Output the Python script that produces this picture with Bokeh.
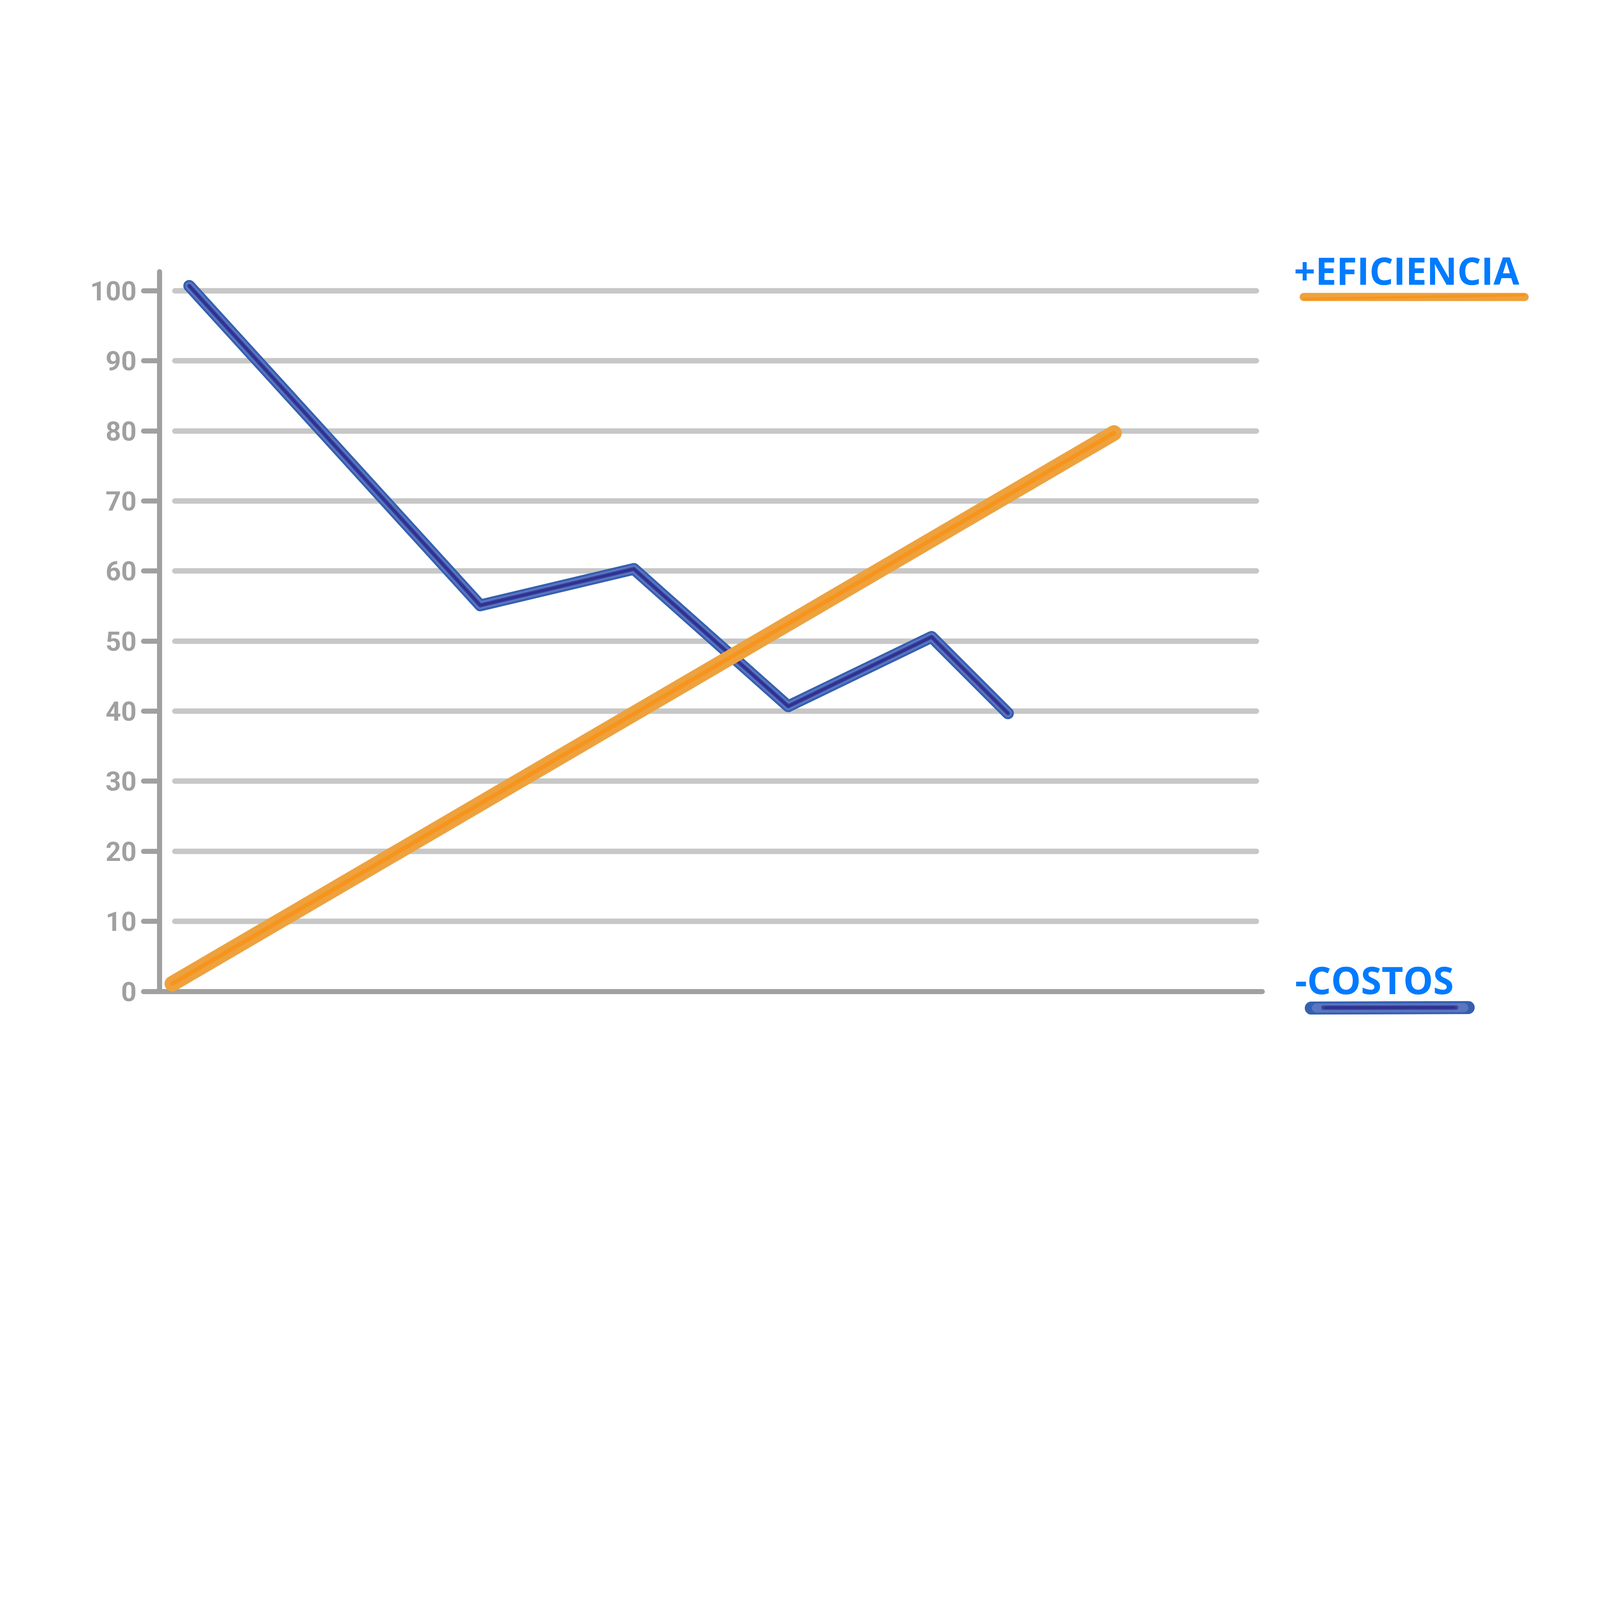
from bokeh.plotting import figure
from bokeh.models import Range1d, FixedTicker, Label, Arrow
from bokeh.embed import file_html
from bokeh.resources import INLINE

# ---------------- data ----------------
y_ticks = [0, 10, 20, 30, 40, 50, 60, 70, 80, 90, 100]
costos_x = [0.35, 3.78, 5.59, 7.41, 9.10, 10.0]
costos_y = [100.7, 55.1, 60.3, 40.7, 50.6, 39.7]
eficiencia_x = [0.15, 11.25]
eficiencia_y = [1.1, 79.7]
legend_labels = ["+EFICIENCIA", "-COSTOS"]

# ---------------- styles ----------------
AXIS = "#a0a0a0"
GRID = "#c7c7c7"
BLUE_OUT = "#3560b0"
BLUE_MID = "#5b76bf"
BLUE_SOFT = "#3b46a0"
BLUE_CORE = "#2e3192"
ORANGE_OUT = "#eea23d"
ORANGE_IN = "#f7941d"
TEXT_BLUE = "#007bff"
LEGEND_FONT = "Open Sans"
TICK_FONT = "Roboto"

# layout is designed on a 5656 x 4500 reference page, scaled to the capture area
S = 4096 / 5656.0


def px(v):
    return v * S


W = 4080
H = int(round(4500 * S))
FRAME_L, FRAME_R, FRAME_T, FRAME_B = 564, 5450, 860, 3640
left = int(round(px(FRAME_L)))
top = int(round(px(FRAME_T)))
frame_w = int(round(px(FRAME_R - FRAME_L)))
frame_h = int(round(px(FRAME_B - FRAME_T)))
right = W - left - frame_w
bottom = H - top - frame_h

X_END = 16.29          # frame right (legend area included)
Y_LO, Y_HI = -5.49, 106.74
AXIS_X_END = 13.0
AXIS_Y_END = 102.7

p = figure(width=W, height=H,
           x_range=Range1d(0, X_END), y_range=Range1d(Y_LO, Y_HI),
           output_backend="svg", toolbar_location=None,
           min_border_left=left, min_border_right=right,
           min_border_top=top, min_border_bottom=bottom)
p.background_fill_color = "white"
p.border_fill_color = "white"
p.outline_line_color = None

# y axis
yax = p.yaxis[0]
yax.ticker = FixedTicker(ticks=y_ticks)
yax.bounds = (0, AXIS_Y_END)
yax.axis_line_color = AXIS
yax.axis_line_width = px(18)
yax.axis_line_cap = "round"
yax.major_tick_line_color = AXIS
yax.major_tick_line_width = px(18)
yax.major_tick_line_cap = "round"
yax.major_tick_out = int(round(px(57)))
yax.major_tick_in = 0
yax.minor_tick_line_color = None
yax.major_label_text_font = TICK_FONT
yax.major_label_text_font_style = "bold"
yax.major_label_text_font_size = f"{px(95):.0f}px"
yax.major_label_text_color = AXIS
yax.major_label_standoff = int(round(px(25)))

# x axis (line only, sitting at y = 0)
xax = p.xaxis[0]
xax.fixed_location = 0
xax.bounds = (0, AXIS_X_END)
xax.axis_line_color = AXIS
xax.axis_line_width = px(18)
xax.axis_line_cap = "round"
xax.major_tick_line_color = None
xax.minor_tick_line_color = None
xax.major_label_text_color = None

# grid
p.xgrid.visible = False
grid_bounds = (0.18, 12.93)
p.ygrid.ticker = FixedTicker(ticks=y_ticks[1:])
p.ygrid.grid_line_color = GRID
p.ygrid.grid_line_width = px(19)
p.ygrid.grid_line_cap = "round"
try:
    p.ygrid.cross_bounds = grid_bounds
except Exception:
    p.ygrid.visible = False
    gy = y_ticks[1:]
    p.segment(x0=[grid_bounds[0]] * len(gy), x1=[grid_bounds[1]] * len(gy), y0=gy, y1=gy,
              line_color=GRID, line_width=px(19), line_cap="round")

# series: costos (blue marker stroke)
for w, c in [(42, BLUE_OUT), (28, BLUE_MID), (15, BLUE_SOFT), (8, BLUE_CORE)]:
    r = p.line(costos_x, costos_y, line_width=px(w), line_color=c,
               line_cap="round", line_join="round")
    r.level = "annotation"

# series: eficiencia (orange marker stroke)
for w, c in [(55, ORANGE_OUT), (15, ORANGE_IN)]:
    r = p.line(eficiencia_x, eficiencia_y, line_width=px(w), line_color=c,
               line_cap="round", line_join="round")
    r.level = "annotation"

# legend texts
fs = f"{px(133):.0f}px"
p.add_layout(Label(x=13.371, y=102.97, text=legend_labels[0], text_font=LEGEND_FONT,
                   text_font_style="bold", text_font_size=fs, text_color=TEXT_BLUE,
                   text_align="left", text_baseline="alphabetic"))
p.add_layout(Label(x=13.384, y=1.72, text=legend_labels[1], text_font=LEGEND_FONT,
                   text_font_style="bold", text_font_size=fs, text_color=TEXT_BLUE,
                   text_align="left", text_baseline="alphabetic"))

# legend underlines (marker strokes)
underlines = [
    (13.486, 99.11, 16.090, 99.11, ORANGE_OUT, 29),
    (13.491, 98.83, 16.085, 99.39, ORANGE_IN, 9),
    (13.575, -2.38, 15.425, -2.30, BLUE_OUT, 46),
    (13.635, -2.36, 15.372, -2.32, BLUE_MID, 32),
    (13.718, -2.32, 15.282, -2.30, BLUE_SOFT, 16),
    (13.740, -2.32, 15.260, -2.30, BLUE_CORE, 9),
]
for x0, y0, x1, y1, c, w in underlines:
    p.add_layout(Arrow(end=None, x_start=x0, y_start=y0, x_end=x1, y_end=y1,
                       line_color=c, line_width=px(w), line_cap="round"))

open("out.html", "w").write(file_html(p, INLINE))
